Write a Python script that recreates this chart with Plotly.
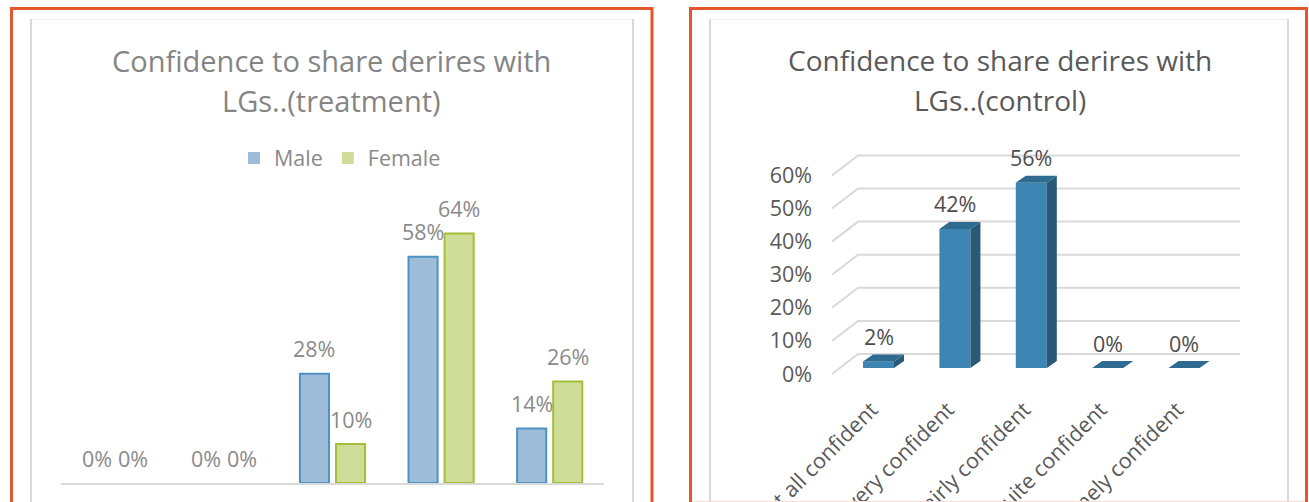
import plotly.graph_objects as go

W, H = 1309, 502

# ---------------- data ----------------
categories = ["Not at all confident", "Not very confident", "Fairly confident",
              "Quite confident", "Extremely confident"]
male_pct = [0, 0, 28, 58, 14]
female_pct = [0, 0, 10, 64, 26]
control_pct = [2, 42, 56, 0, 0]
y_ticks = [0, 10, 20, 30, 40, 50, 60]
y_tick_text = [f"{v}%" for v in y_ticks]

FONT = "Open Sans"
LBL = 21.5


def px(p):
    return p / W


def py(p):
    return 1 - p / H


idx = list(range(len(categories)))
fig = go.Figure()

# ---------------- left chart (treatment) ----------------
bw = 0.268
off = 0.166
fig.add_trace(go.Bar(
    x=idx, y=male_pct, name="Male", offset=-off - bw / 2, width=bw,
    marker=dict(color="#9dbdd9",
                line=dict(color="#4f92c3", width=[2 if v > 0 else 0 for v in male_pct])),
    xaxis="x", yaxis="y"))
fig.add_trace(go.Bar(
    x=idx, y=female_pct, name="Female", offset=off - bw / 2, width=bw,
    marker=dict(color="#cfdd98",
                line=dict(color="#a2bf3a", width=[2 if v > 0 else 0 for v in female_pct])),
    xaxis="x", yaxis="y"))

# ---------------- right chart (control) ----------------
bw2 = 0.406
h2 = bw2 / 2
ddx = 10 / 76.4   # depth in category units
ddy = 7 / 3.31    # depth in % units
fig.add_trace(go.Bar(
    x=idx, y=control_pct, width=bw2, showlegend=False,
    marker=dict(color="#3d86b4", line=dict(width=0)),
    xaxis="x2", yaxis="y2"))

# top faces / side faces
tx, ty = [], []
sx, sy = [], []
for i, v in zip(idx, control_pct):
    tx += [i - h2, i + h2, i + h2 + ddx, i - h2 + ddx, i - h2, None]
    ty += [v, v, v + ddy, v + ddy, v, None]
    if v > 0:
        sx += [i + h2, i + h2 + ddx, i + h2 + ddx, i + h2, i + h2, None]
        sy += [0, ddy, v + ddy, v, 0, None]
fig.add_trace(go.Scatter(x=sx, y=sy, fill="toself", mode="lines",
                         fillcolor="#285a78", line=dict(width=0, color="#285a78"),
                         showlegend=False, hoverinfo="skip", xaxis="x2", yaxis="y2"))
fig.add_trace(go.Scatter(x=tx, y=ty, fill="toself", mode="lines",
                         fillcolor="#2f6b90", line=dict(width=0, color="#2f6b90"),
                         showlegend=False, hoverinfo="skip", xaxis="x2", yaxis="y2"))

# ---------------- axes ----------------
x2_left, x2_back, x2_right = -0.609, -0.268, 4.732
front_dy, back_dy = -6 / 3.31, 14 / 3.31

fig.update_layout(
    width=W, height=H,
    margin=dict(l=0, r=0, t=0, b=0, autoexpand=False),
    paper_bgcolor="white", plot_bgcolor="rgba(0,0,0,0)",
    barmode="overlay",
    font=dict(family=FONT, color="#7f7f7f"),
    showlegend=True,
    legend=dict(orientation="h", x=px(234), y=py(158), yanchor="middle",
                xanchor="left", font=dict(size=21.5, color="#8a8a8a"),
                bgcolor="rgba(0,0,0,0)", itemwidth=30, traceorder="normal"),
    xaxis=dict(domain=[px(61), px(604)], range=[-0.5, 4.5],
               tickvals=idx, ticktext=categories, showticklabels=False,
               showgrid=False, zeroline=False, showline=True,
               linecolor="#d9d9d9", linewidth=2, ticks="", anchor="y",
               automargin=False),
    yaxis=dict(domain=[py(483), py(200)], range=[0, (483 - 200) / 3.9],
               visible=False, anchor="x", automargin=False),
    xaxis2=dict(domain=[px(832), px(1240)], range=[x2_left, x2_right],
                tickvals=idx, ticktext=categories, tickangle=-45,
                ticklabelshift=-7,
                showgrid=False, zeroline=False, showline=False, ticks="",
                tickfont=dict(size=LBL, color="#595959"), anchor="y2",
                automargin=False),
    yaxis2=dict(domain=[py(392), py(140)], range=[-(392 - 368) / 3.31, (368 - 140) / 3.31],
                tickvals=y_ticks, ticktext=y_tick_text,
                showgrid=False, zeroline=False, showline=False, ticks="",
                ticklabelshift=6, ticklabelstandoff=19,
                tickfont=dict(size=LBL, color="#595959"), anchor="x2",
                automargin=False),
)

shapes = []
# gridlines of the 3D control chart (floor diagonal + back wall)
for v in y_ticks:
    shapes.append(dict(type="path", xref="x2", yref="y2", layer="below",
                       path=f"M{x2_left},{v + front_dy} L{x2_back},{v + back_dy} L{x2_right},{v + back_dy}",
                       line=dict(color="#d9d9d9", width=2)))
# frames
for (ox0, ox1, ix0, ix1) in [(11.5, 652, 31, 633), (690.5, 1306.5, 710, 1288)]:
    shapes.append(dict(type="line", xref="paper", yref="paper",
                       x0=px(ix0), x1=px(ix1), y0=py(19.5), y1=py(19.5),
                       line=dict(color="#efefef", width=1)))
    for xx in (ix0, ix1):
        shapes.append(dict(type="line", xref="paper", yref="paper",
                           x0=px(xx), x1=px(xx), y0=py(19), y1=py(510),
                           line=dict(color="#d9d9d9", width=2)))
    shapes.append(dict(type="path", xref="paper", yref="paper",
                       path=f"M{px(ox0)},{py(520)} L{px(ox0)},{py(8.5)} L{px(ox1)},{py(8.5)} L{px(ox1)},{py(520)}",
                       line=dict(color="#e5572b", width=3)))
shapes.append(dict(type="line", xref="paper", yref="paper",
                   x0=px(692), x1=px(1305), y0=py(501.5), y1=py(501.5),
                   line=dict(color="#f8e0d8", width=1)))
fig.update_layout(shapes=shapes)

ann = []
# titles
for cx, l1, l2, col, sz in [(331, "Confidence to share derires with", "LGs..(treatment)", "#858585", 29),
                            (1000, "Confidence to share derires with", "LGs..(control)", "#595959", 28)]:
    ann.append(dict(xref="paper", yref="paper", x=px(cx), y=py(60), text=l1,
                    showarrow=False, xanchor="center", yanchor="middle",
                    font=dict(size=sz, color=col, family=FONT)))
    ann.append(dict(xref="paper", yref="paper", x=px(cx), y=py(100), text=l2,
                    showarrow=False, xanchor="center", yanchor="middle",
                    font=dict(size=sz, color=col, family=FONT)))
# data labels
for i in idx:
    ann.append(dict(xref="x", yref="y", x=i - off, y=male_pct[i], yshift=25,
                    text=f"{male_pct[i]}%", showarrow=False,
                    font=dict(size=LBL, color="#8a8a8a")))
    ann.append(dict(xref="x", yref="y", x=i + off, y=female_pct[i], yshift=25,
                    text=f"{female_pct[i]}%", showarrow=False,
                    font=dict(size=LBL, color="#8a8a8a")))
    ann.append(dict(xref="x2", yref="y2", x=i, y=control_pct[i], yshift=25,
                    text=f"{control_pct[i]}%", showarrow=False,
                    font=dict(size=LBL, color="#4d4d4d")))
fig.update_layout(annotations=ann)

fig.write_html("out.html")
